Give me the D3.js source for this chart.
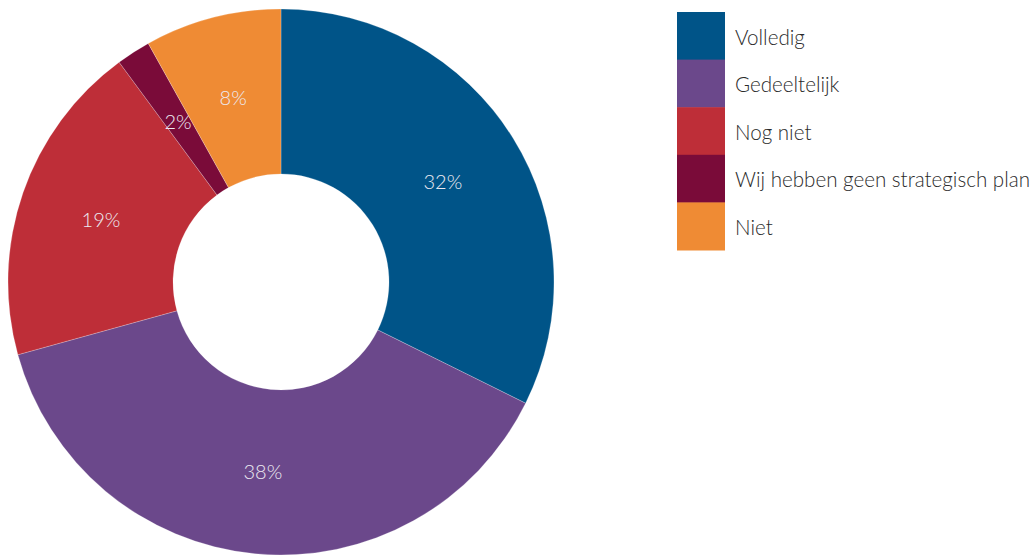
<!DOCTYPE html>
<html>
<head>
<meta charset="utf-8">
<script src="https://cdn.jsdelivr.net/npm/d3@7"></script>
<style>
  html, body { margin: 0; padding: 0; background: #fff; }
  svg { display: block; }
  text { font-family: Lato, "Open Sans", sans-serif; font-weight: 300; }
</style>
</head>
<body>
<svg id="chart" width="1034" height="556"></svg>
<script>
// Answers to the strategic-plan question
const categories = ["Volledig", "Gedeeltelijk", "Nog niet", "Wij hebben geen strategisch plan", "Niet"];
const values = [32, 38, 19, 2, 8];
const labels = ["32%", "38%", "19%", "2%", "8%"];
const colors = ["#005488", "#6b488b", "#be2e38", "#7a0b39", "#ef8b34"];

const svg = d3.select("#chart");
const cx = 281, cy = 282, outerR = 273, innerR = 108;

const pie = d3.pie().sort(null).value(d => d.value);
const arc = d3.arc().innerRadius(innerR).outerRadius(outerR);
const labelArc = d3.arc().innerRadius((innerR + outerR) / 2).outerRadius((innerR + outerR) / 2);

const data = categories.map((c, i) => ({ name: c, value: values[i], label: labels[i], color: colors[i] }));
const color = d3.scaleOrdinal().domain(categories).range(colors);

const g = svg.append("g").attr("transform", `translate(${cx},${cy})`);
const slices = g.selectAll("g.slice").data(pie(data)).join("g").attr("class", "slice");

slices.append("path")
  .attr("d", arc)
  .attr("fill", d => color(d.data.name))
  .attr("stroke", "rgba(255,255,255,0.45)")
  .attr("stroke-width", 0.5);

slices.append("text")
  .attr("transform", d => `translate(${labelArc.centroid(d)})`)
  .attr("text-anchor", "middle")
  .attr("dy", "0.35em")
  .attr("fill", "#eceaf2")
  .style("font-size", "20px")
  .text(d => d.data.label);

// Legend
const legend = svg.append("g").attr("transform", "translate(677,12)");
const rowH = 47.6;
const rows = legend.selectAll("g").data(categories).join("g")
  .attr("transform", (d, i) => `translate(0,${i * rowH})`);
rows.append("rect")
  .attr("width", 48).attr("height", rowH + 0.5)
  .attr("fill", d => color(d));
rows.append("text")
  .attr("x", 58).attr("y", rowH / 2 + 1.5)
  .attr("dy", "0.35em")
  .attr("fill", "#2b2b2b")
  .style("font-size", "20.6px")
  .text(d => d);
</script>
</body>
</html>
